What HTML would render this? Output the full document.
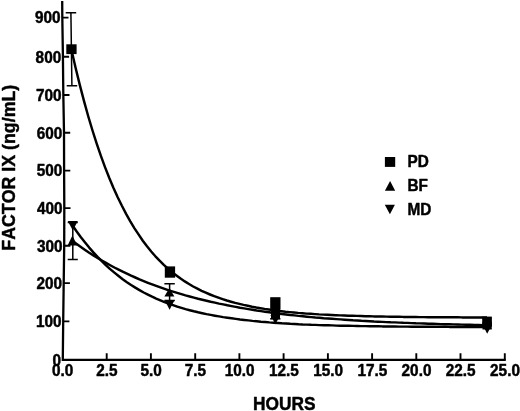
<!DOCTYPE html>
<html><head><meta charset="utf-8"><title>Factor IX</title>
<style>
html,body{margin:0;padding:0;background:#fff}
body{width:520px;height:411px;overflow:hidden}
svg{display:block}
text{font-kerning:none;font-family:"Liberation Sans",Arial,Helvetica,sans-serif;font-weight:bold;font-size:15.35px;fill:#000;stroke:#000;stroke-width:.45px;stroke-linejoin:round}
.ax{stroke:#000;stroke-width:2.3;fill:none;stroke-linejoin:miter}
.tk{stroke:#000;stroke-width:1.9;fill:none}
.c{stroke:#000;stroke-width:2.45;fill:none;stroke-linejoin:round}
.e{stroke:#000;stroke-width:1.5;fill:none}
</style></head><body>
<svg width="520" height="411" viewBox="0 0 520 411">
<rect width="520" height="411" fill="#fff" stroke="none"/>
<path class="ax" d="M62.2 1.0 L62.3 17.0 L62.9 55.0 L63.3 93.0 L64.0 132.0 L64.1 170.0 L64.3 208.0 L64.2 246.0 L63.7 283.0 L63.2 321.0 L62.8 359.8 H505.8"/>
<path class="tk" d="M63.2 321.4h6.2M63.7 283.1h6.2M64.2 245.7h6.2M64.3 208.1h6.2M64.1 170.6h6.2M64.0 132.8h6.2M63.3 95.0h6.2M62.9 56.7h6.2M62.3 17.6h6.2M106.7 359.8V353.3M150.9 359.8V353.3M195.2 359.8V353.3M239.4 359.8V353.3M283.6 359.8V353.3M327.9 359.8V353.3M372.1 359.8V353.3M416.3 359.8V353.3M460.5 359.8V353.3M504.8 359.8V353.3"/>
<text transform="translate(61.1,365.6) scale(1,1.06)" text-anchor="end">0</text>
<text transform="translate(61.5,327.2) scale(1,1.06)" text-anchor="end">100</text>
<text transform="translate(62.0,289.0) scale(1,1.06)" text-anchor="end">200</text>
<text transform="translate(62.5,251.5) scale(1,1.06)" text-anchor="end">300</text>
<text transform="translate(62.6,213.9) scale(1,1.06)" text-anchor="end">400</text>
<text transform="translate(62.4,176.4) scale(1,1.06)" text-anchor="end">500</text>
<text transform="translate(62.3,138.7) scale(1,1.06)" text-anchor="end">600</text>
<text transform="translate(61.6,100.8) scale(1,1.06)" text-anchor="end">700</text>
<text transform="translate(61.2,62.6) scale(1,1.06)" text-anchor="end">800</text>
<text transform="translate(60.6,23.4) scale(1,1.06)" text-anchor="end">900</text>
<text transform="translate(62.7,376.3) scale(1,1.06)" text-anchor="middle">0.0</text>
<text transform="translate(106.9,376.3) scale(1,1.06)" text-anchor="middle">2.5</text>
<text transform="translate(151.1,376.3) scale(1,1.06)" text-anchor="middle">5.0</text>
<text transform="translate(195.4,376.3) scale(1,1.06)" text-anchor="middle">7.5</text>
<text transform="translate(239.6,376.3) scale(1,1.06)" text-anchor="middle">10.0</text>
<text transform="translate(283.8,376.3) scale(1,1.06)" text-anchor="middle">12.5</text>
<text transform="translate(328.1,376.3) scale(1,1.06)" text-anchor="middle">15.0</text>
<text transform="translate(372.3,376.3) scale(1,1.06)" text-anchor="middle">17.5</text>
<text transform="translate(416.5,376.3) scale(1,1.06)" text-anchor="middle">20.0</text>
<text transform="translate(460.7,376.3) scale(1,1.06)" text-anchor="middle">22.5</text>
<text transform="translate(505.0,376.3) scale(1,1.06)" text-anchor="middle">25.0</text>
<text transform="translate(284.3,409.5) scale(1,1.08)" text-anchor="middle" style="font-size:17.3px">HOURS</text>
<text transform="translate(15,167.7) rotate(-90)" text-anchor="middle" style="font-size:17.8px">FACTOR IX (ng/mL)</text>
<path class="c" d="M71.5 50.0 L75.7 68.3 L79.9 85.4 L84.1 101.4 L88.3 116.5 L92.5 130.5 L96.7 143.6 L100.9 155.9 L105.1 167.3 L109.3 178.0 L113.5 187.9 L117.7 197.2 L121.9 205.8 L126.1 213.9 L130.3 221.3 L134.5 228.3 L138.7 234.7 L142.8 240.7 L147.0 246.3 L151.2 251.5 L155.4 256.3 L159.6 260.7 L163.8 264.9 L168.0 268.7 L172.2 272.3 L176.4 275.5 L180.6 278.6 L184.8 281.4 L189.0 284.0 L193.2 286.5 L197.4 288.7 L201.6 290.8 L205.8 292.7 L210.0 294.5 L214.2 296.2 L218.4 297.7 L222.6 299.1 L226.8 300.5 L231.0 301.7 L235.2 302.9 L239.4 303.9 L243.6 304.9 L247.8 305.8 L252.0 306.7 L256.2 307.5 L260.4 308.2 L264.6 308.9 L268.8 309.5 L273.0 310.1 L277.2 310.7 L281.3 311.2 L285.5 311.7 L289.7 312.1 L293.9 312.5 L298.1 312.9 L302.3 313.2 L306.5 313.6 L310.7 313.8 L314.9 314.1 L319.1 314.4 L323.3 314.6 L327.5 314.8 L331.7 315.0 L335.9 315.2 L340.1 315.4 L344.3 315.5 L348.5 315.7 L352.7 315.8 L356.9 315.9 L361.1 316.0 L365.3 316.2 L369.5 316.3 L373.7 316.4 L377.9 316.4 L382.1 316.5 L386.3 316.6 L390.5 316.7 L394.7 316.8 L398.9 316.8 L403.1 316.9 L407.3 316.9 L411.5 317.0 L415.7 317.0 L419.8 317.1 L424.0 317.1 L428.2 317.2 L432.4 317.2 L436.6 317.2 L440.8 317.2 L445.0 317.3 L449.2 317.3 L453.4 317.3 L457.6 317.3 L461.8 317.4 L466.0 317.4 L470.2 317.4 L474.4 317.4 L478.6 317.4 L482.8 317.4 L487.0 317.4"/>
<path class="c" d="M72.5 240.9 L76.7 244.0 L80.9 247.0 L85.1 249.9 L89.2 252.7 L93.4 255.4 L97.6 258.0 L101.8 260.5 L106.0 262.9 L110.2 265.2 L114.4 267.5 L118.6 269.6 L122.7 271.7 L126.9 273.7 L131.1 275.7 L135.3 277.5 L139.5 279.4 L143.7 281.1 L147.9 282.8 L152.1 284.4 L156.2 285.9 L160.4 287.4 L164.6 288.9 L168.8 290.3 L173.0 291.6 L177.2 292.9 L181.4 294.2 L185.5 295.4 L189.7 296.5 L193.9 297.6 L198.1 298.7 L202.3 299.7 L206.5 300.7 L210.7 301.7 L214.9 302.6 L219.0 303.6 L223.2 304.4 L227.4 305.3 L231.6 306.1 L235.8 306.9 L240.0 307.7 L244.2 308.4 L248.3 309.1 L252.5 309.8 L256.7 310.5 L260.9 311.1 L265.1 311.7 L269.3 312.3 L273.5 312.9 L277.7 313.4 L281.8 314.0 L286.0 314.5 L290.2 315.0 L294.4 315.4 L298.6 315.9 L302.8 316.3 L307.0 316.7 L311.2 317.1 L315.3 317.5 L319.5 317.8 L323.7 318.2 L327.9 318.5 L332.1 318.8 L336.3 319.1 L340.5 319.4 L344.6 319.7 L348.8 320.0 L353.0 320.3 L357.2 320.5 L361.4 320.8 L365.6 321.0 L369.8 321.2 L374.0 321.5 L378.1 321.7 L382.3 321.9 L386.5 322.1 L390.7 322.3 L394.9 322.4 L399.1 322.6 L403.3 322.8 L407.4 322.9 L411.6 323.1 L415.8 323.3 L420.0 323.4 L424.2 323.5 L428.4 323.7 L432.6 323.8 L436.8 323.9 L440.9 324.1 L445.1 324.2 L449.3 324.3 L453.5 324.4 L457.7 324.5 L461.9 324.6 L466.1 324.7 L470.3 324.8 L474.4 324.9 L478.6 325.0 L482.8 325.1 L487.0 325.1"/>
<path class="c" d="M72.5 225.5 L76.7 231.5 L80.9 237.2 L85.1 242.5 L89.2 247.6 L93.4 252.4 L97.6 256.9 L101.8 261.2 L106.0 265.3 L110.2 269.1 L114.4 272.6 L118.6 276.0 L122.7 279.2 L126.9 282.2 L131.1 285.0 L135.3 287.6 L139.5 290.1 L143.7 292.5 L147.9 294.6 L152.1 296.7 L156.2 298.6 L160.4 300.4 L164.6 302.1 L168.8 303.7 L173.0 305.2 L177.2 306.6 L181.4 307.9 L185.5 309.1 L189.7 310.2 L193.9 311.3 L198.1 312.3 L202.3 313.2 L206.5 314.1 L210.7 314.9 L214.9 315.7 L219.0 316.4 L223.2 317.1 L227.4 317.7 L231.6 318.3 L235.8 318.9 L240.0 319.5 L244.2 320.0 L248.3 320.4 L252.5 320.9 L256.7 321.3 L260.9 321.7 L265.1 322.0 L269.3 322.4 L273.5 322.7 L277.7 323.0 L281.8 323.3 L286.0 323.5 L290.2 323.8 L294.4 324.0 L298.6 324.3 L302.8 324.5 L307.0 324.6 L311.2 324.8 L315.3 324.9 L319.5 325.1 L323.7 325.2 L327.9 325.3 L332.1 325.4 L336.3 325.6 L340.5 325.7 L344.6 325.8 L348.8 325.8 L353.0 325.9 L357.2 326.0 L361.4 326.1 L365.6 326.1 L369.8 326.2 L374.0 326.3 L378.1 326.3 L382.3 326.4 L386.5 326.4 L390.7 326.5 L394.9 326.5 L399.1 326.6 L403.3 326.6 L407.4 326.6 L411.6 326.7 L415.8 326.7 L420.0 326.7 L424.2 326.7 L428.4 326.8 L432.6 326.8 L436.8 326.8 L440.9 326.8 L445.1 326.8 L449.3 326.9 L453.5 326.9 L457.7 326.9 L461.9 326.9 L466.1 326.9 L470.3 326.9 L474.4 326.9 L478.6 326.9 L482.8 326.9 L487.0 326.9"/>
<path d="M65.7 12.7H76.2M66.7 85.7H77.2M70.9 12.7L71.9 85.7" class="e"/>
<path d="M67.7 222.6H77.8M67.7 259.4H77.8M72.8 222.6L72.8 259.4" class="e"/>
<path d="M164.4 283.7H174.8M164.4 300.6H174.8M169.6 283.7L169.6 300.6" class="e"/>
<g fill="#000">
<rect x="66.3" y="44.3" width="10.3" height="9.8"/>
<polygon points="72.8,230.5 77.8,220.9 67.8,220.9"/>
<polygon points="72.4,235.6 77.2,245.6 67.6,245.6"/>
<rect x="164.8" y="266.4" width="10.3" height="11.3"/>
<polygon points="169.4,288.1 174.4,296.5 164.4,296.5"/>
<polygon points="169.6,309.7 174.5,300.3 164.7,300.3"/>
<rect x="270.2" y="297.2" width="10.3" height="12.4"/>
<polygon points="275.4,305.0 280.4,314.0 270.4,314.0"/>
<rect x="271" y="305" width="9" height="13.6"/>
<rect x="270.2" y="318.0" width="10.2" height="1.6"/>
<polygon points="275.4,324.3 280.4,314.9 270.4,314.9"/>
<rect x="482.2" y="316.6" width="9.7" height="10.0"/>
<polygon points="487.1,320.0 491.9,328.0 482.2,328.0"/>
<rect x="482.4" y="322" width="9.4" height="5.4"/>
<rect x="482.5" y="328.0" width="9.3" height="1.5"/>
<polygon points="487.2,333.8 491.8,325.0 482.6,325.0"/>
<rect x="384.9" y="157.0" width="10.3" height="9.9"/>
<polygon points="390.1,180.9 395.2,190.8 384.9,190.8"/>
<polygon points="389.9,214.3 394.9,204.8 384.8,204.8"/>
</g>
<text transform="translate(407.5,166.9) scale(1,1.06)">PD</text>
<text transform="translate(407.5,191.3) scale(1,1.06)">BF</text>
<text transform="translate(407.5,214.9) scale(1,1.06)">MD</text>
</svg></body></html>
